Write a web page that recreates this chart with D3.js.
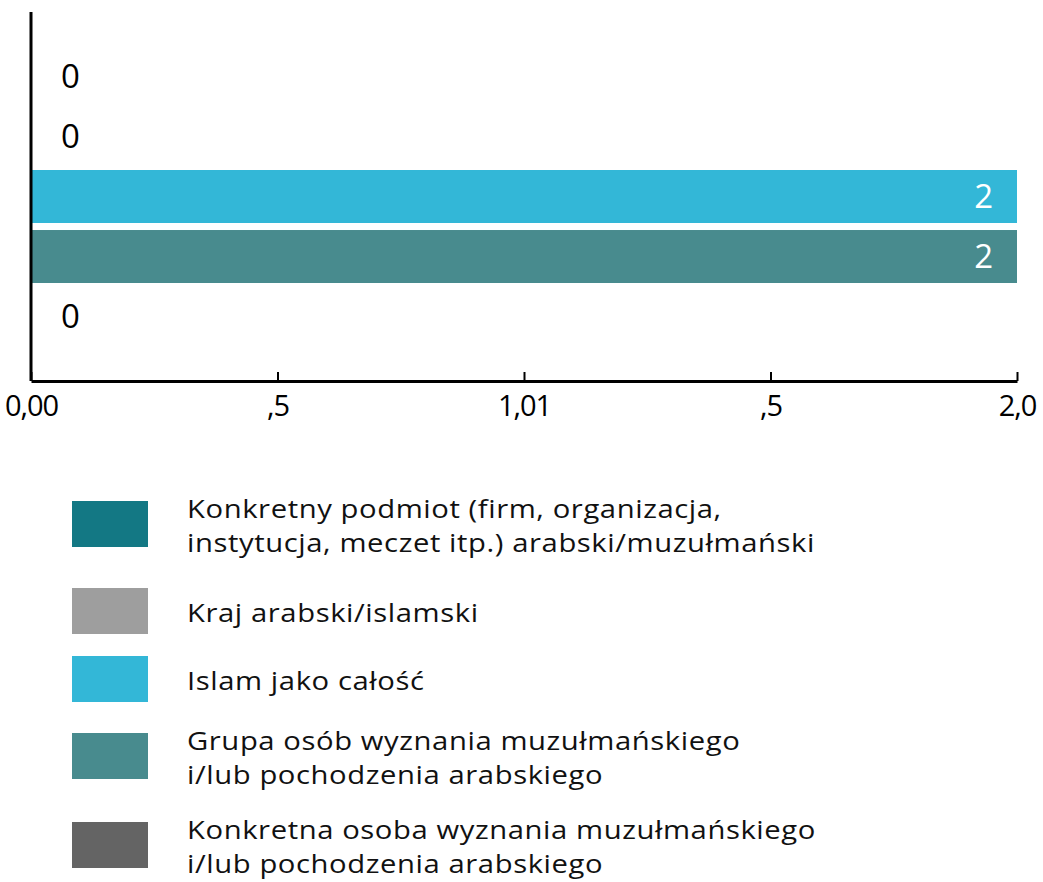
<!DOCTYPE html>
<html>
<head>
<meta charset="utf-8">
<script src="https://cdn.jsdelivr.net/npm/d3@7"></script>
<style>
  body { margin: 0; background: #fff; }
  svg { display: block; }
</style>
</head>
<body>
<div id="chart-container"></div>
<script>
const categories = [
    "Konkretny podmiot (firm, organizacja, instytucja, meczet itp.) arabski/muzułmański",
    "Kraj arabski/islamski",
    "Islam jako całość",
    "Grupa osób wyznania muzułmańskiego i/lub pochodzenia arabskiego",
    "Konkretna osoba wyznania muzułmańskiego i/lub pochodzenia arabskiego"
];
const values = [0, 0, 2, 2, 0];
const colors = ["#137884", "#9e9e9e", "#33b7d7", "#488b8e", "#646464"];
const tickValues = [0, 0.5, 1, 1.5, 2];
const tickLabels = ["0,00", ",5", "1,01", ",5", "2,0"];
const legendLines = [
    ["Konkretny podmiot (firm, organizacja,", "instytucja, meczet itp.) arabski/muzułmański"],
    ["Kraj arabski/islamski"],
    ["Islam jako całość"],
    ["Grupa osób wyznania muzułmańskiego", "i/lub pochodzenia arabskiego"],
    ["Konkretna osoba wyznania muzułmańskiego", "i/lub pochodzenia arabskiego"]
];
const legendY = [524, 611, 679, 756, 845];

const width = 1043;
const height = 882;
const marginLeft = 31;
const marginRight = 26;
const plotTop = 12;
const plotBottom = 381;

const x = d3.scaleLinear()
    .domain([0, 2])
    .range([marginLeft, width - marginRight]);

const y = d3.scaleBand()
    .domain(categories)
    .range([plotTop, plotBottom])
    .paddingInner(0.117)
    .paddingOuter(0.633);

const svg = d3.create("svg")
    .attr("width", width)
    .attr("height", height);

// bars
svg.append("g")
    .selectAll("rect")
    .data(categories)
    .join("rect")
    .attr("x", x(0))
    .attr("y", d => y(d))
    .attr("width", (d, i) => x(values[i]) - x(0))
    .attr("height", y.bandwidth())
    .attr("fill", (d, i) => colors[i]);

// value labels
svg.append("g")
    .selectAll("text")
    .data(categories)
    .join("text")
    .attr("x", (d, i) => values[i] > 0 ? x(values[i]) - 24 : x(0) + 30)
    .attr("y", d => y(d) + y.bandwidth() / 2)
    .attr("dy", "0.36em")
    .attr("text-anchor", (d, i) => values[i] > 0 ? "end" : "start")
    .attr("font-family", "'Open Sans', sans-serif")
    .attr("font-size", 33)
    .attr("fill", (d, i) => values[i] > 0 ? "#fff" : "#000")
    .text((d, i) => values[i]);

// axes
svg.append("g")
    .attr("transform", `translate(0,${plotBottom})`)
    .call(d3.axisBottom(x).tickValues(tickValues).tickFormat((d, i) => tickLabels[i]).tickSize(-9).tickSizeOuter(0))
    .call(g => g.select(".domain").attr("stroke-width", 3))
    .call(g => g.selectAll(".tick line").attr("stroke-width", 2))
    .call(g => g.selectAll(".tick text")
        .attr("y", 14)
        .attr("dy", "0.71em")
        .attr("font-family", "'Open Sans', sans-serif")
        .attr("font-size", 29)
        .attr("letter-spacing", -1)
        .attr("fill", "#000"));

svg.append("line")
    .attr("x1", marginLeft).attr("x2", marginLeft)
    .attr("y1", plotTop).attr("y2", plotBottom)
    .attr("stroke", "#000")
    .attr("stroke-width", 3);

// legend
const legend = svg.append("g")
    .selectAll("g")
    .data(categories)
    .join("g")
    .attr("transform", (d, i) => `translate(0,${legendY[i]})`);

legend.append("rect")
    .attr("x", 72)
    .attr("y", -23)
    .attr("width", 76)
    .attr("height", 46)
    .attr("fill", (d, i) => colors[i]);

// one text per line; stretched a bit to match the wide original face
legend.each(function(d, i) {
    const lines = legendLines[i];
    const lh = 34;
    const start = 2 - (lines.length - 1) * lh / 2;
    d3.select(this).selectAll("text")
        .data(lines)
        .join("text")
        .attr("transform", (l, j) => `translate(187,${start + j * lh}) scale(1.17,1)`)
        .attr("dy", "0.36em")
        .attr("font-family", "'Open Sans', sans-serif")
        .attr("font-size", 25)
        .attr("letter-spacing", 0.5)
        .attr("fill", "#111")
        .text(l => l);
});

document.getElementById("chart-container").appendChild(svg.node());
</script>
</body>
</html>
